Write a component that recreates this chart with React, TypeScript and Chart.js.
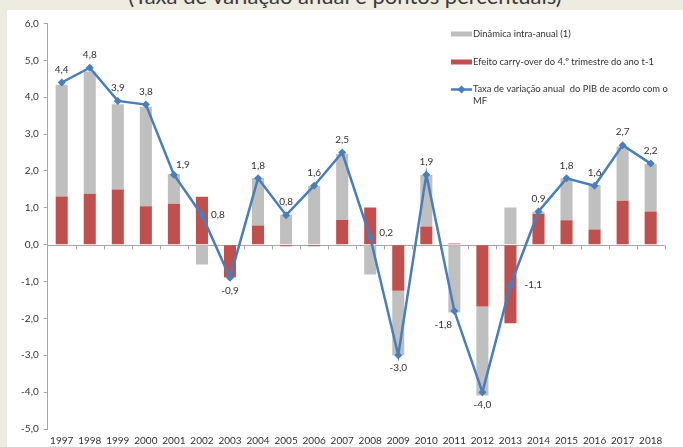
import React, { useEffect, useRef } from 'react';
import { Chart, registerables } from 'chart.js';

Chart.register(...registerables);

const YEARS = ['1997', '1998', '1999', '2000', '2001', '2002', '2003', '2004', '2005', '2006', '2007', '2008', '2009', '2010', '2011', '2012', '2013', '2014', '2015', '2016', '2017', '2018'];
const CARRY_OVER = [1.31, 1.38, 1.5, 1.04, 1.11, 1.3, -0.88, 0.52, -0.04, -0.04, 0.67, 1.01, -1.25, 0.49, 0.03, -1.68, -2.13, 0.83, 0.66, 0.41, 1.19, 0.9];
const INTRA_ANUAL = [3.03, 3.32, 2.31, 2.7, 0.81, -0.54, -0.02, 1.29, 0.81, 1.59, 1.8, -0.81, -1.75, 1.4, -1.84, -2.41, 1.01, 0.06, 1.14, 1.21, 1.47, 1.29];
const PIB = [4.4, 4.8, 3.9, 3.8, 1.9, 0.8, -0.9, 1.8, 0.8, 1.6, 2.5, 0.2, -3.0, 1.9, -1.8, -4.0, -1.1, 0.9, 1.8, 1.6, 2.7, 2.2];
const Y_MIN = -5;
const Y_MAX = 6;

const TITLE = '(Taxa de variação anual e pontos percentuais)';
const LEGEND_INTRA = 'Dinâmica intra-anual (1)';
const LEGEND_CARRY = 'Efeito carry-over do 4.º trimestre do ano t-1';
const LEGEND_PIB = ['Taxa de variação anual  do PIB de acordo com o', 'MF'];

// label placement (style only)
const LABEL_PLACE = ['above', 'above', 'above', 'above', 'upRight', 'right', 'below', 'above', 'above', 'above', 'above', 'rightUp', 'below', 'above', 'leftBelow', 'below', 'rightFar', 'above', 'above', 'above', 'above', 'above'];

const GREY = '#BFBFBF';
const RED = '#C0504D';
const BLUE = '#4A7EBB';
const AXIS = '#A6A6A6';
const TEXT = '#333333';
const FONT = 'Lato, "Open Sans", sans-serif';

const fmt = (v: number) => v.toFixed(1).replace('.', ',');

const overlayPlugin = {
  id: 'overlay',
  beforeDatasetsDraw(chart: any) {
    const { ctx, chartArea, scales } = chart;
    const y0 = scales.y.getPixelForValue(0);
    const n = YEARS.length;
    const pitch = (chartArea.right - chartArea.left) / n;
    ctx.save();
    ctx.strokeStyle = AXIS;
    ctx.lineWidth = 1;
    ctx.beginPath();
    const yy = Math.round(y0) + 0.5;
    ctx.moveTo(chartArea.left, yy);
    ctx.lineTo(chartArea.right, yy);
    for (let i = 1; i <= n; i++) {
      const x = Math.round(chartArea.left + i * pitch) + 0.5;
      ctx.moveTo(x, yy);
      ctx.lineTo(x, yy + 4);
    }
    ctx.stroke();
    ctx.restore();
  },
  afterDatasetsDraw(chart: any) {
    const { ctx } = chart;
    const meta = chart.getDatasetMeta(2);
    ctx.save();
    ctx.font = `10px ${FONT}`;
    ctx.fillStyle = TEXT;
    meta.data.forEach((pt: any, i: number) => {
      const txt = fmt(PIB[i]);
      const p = LABEL_PLACE[i];
      let x = pt.x;
      let y = pt.y;
      ctx.textAlign = 'center';
      ctx.textBaseline = 'middle';
      if (p === 'above') { y -= 13; }
      else if (p === 'below') { y += 13; }
      else if (p === 'upRight') { x += 9; y -= 10; }
      else if (p === 'right') { ctx.textAlign = 'left'; x += 9; }
      else if (p === 'rightUp') { ctx.textAlign = 'left'; x += 9; y -= 5; }
      else if (p === 'rightFar') { ctx.textAlign = 'left'; x += 14; }
      else if (p === 'leftBelow') { x -= 11; y += 14; }
      ctx.fillText(txt, x, y);
    });
    ctx.restore();
  },
  afterDraw(chart: any) {
    const { ctx } = chart;
    ctx.save();
    ctx.font = `9.4px ${FONT}`;
    ctx.fillStyle = TEXT;
    ctx.textAlign = 'left';
    ctx.textBaseline = 'middle';
    const bx = 444;
    const tx = 466;
    // grey
    ctx.fillStyle = GREY;
    ctx.fillRect(bx, 21.5, 21, 5);
    ctx.fillStyle = TEXT;
    ctx.fillText(LEGEND_INTRA, tx, 24);
    // red
    ctx.fillStyle = RED;
    ctx.fillRect(bx, 49.5, 21, 5);
    ctx.fillStyle = TEXT;
    ctx.fillText(LEGEND_CARRY, tx, 52);
    // line
    ctx.strokeStyle = BLUE;
    ctx.lineWidth = 2.5;
    ctx.beginPath();
    ctx.moveTo(bx, 79.5);
    ctx.lineTo(bx + 21, 79.5);
    ctx.stroke();
    ctx.fillStyle = BLUE;
    ctx.beginPath();
    const cx = bx + 10.5;
    ctx.moveTo(cx, 75.5);
    ctx.lineTo(cx + 4, 79.5);
    ctx.lineTo(cx, 83.5);
    ctx.lineTo(cx - 4, 79.5);
    ctx.closePath();
    ctx.fill();
    ctx.fillStyle = TEXT;
    ctx.fillText(LEGEND_PIB[0], tx, 79);
    ctx.fillText(LEGEND_PIB[1], tx, 91);
    ctx.restore();
  },
};

export default function App() {
  const ref = useRef<HTMLCanvasElement | null>(null);
  useEffect(() => {
    if (!ref.current) return;
    const chart = new Chart(ref.current, {
      type: 'bar',
      data: {
        labels: YEARS,
        datasets: [
          {
            type: 'bar',
            label: LEGEND_CARRY,
            data: CARRY_OVER,
            backgroundColor: RED,
            stack: 'bars',
            order: 1,
            categoryPercentage: 1,
            barPercentage: 0.43,
          },
          {
            type: 'bar',
            label: LEGEND_INTRA,
            data: INTRA_ANUAL,
            backgroundColor: GREY,
            stack: 'bars',
            order: 1,
            categoryPercentage: 1,
            barPercentage: 0.43,
          },
          {
            type: 'line',
            label: LEGEND_PIB.join(' '),
            data: PIB,
            borderColor: BLUE,
            backgroundColor: BLUE,
            borderWidth: 2.5,
            pointStyle: 'rectRot',
            pointRadius: 4,
            pointBorderWidth: 0,
            pointBackgroundColor: BLUE,
            stack: 'line',
            order: 0,
            tension: 0,
          },
        ] as any,
      },
      options: {
        animation: false,
        responsive: true,
        maintainAspectRatio: false,
        layout: { padding: { top: 13.5, right: 18.3, left: 0, bottom: 0 } },
        plugins: {
          legend: { display: false },
          tooltip: { enabled: false },
          title: { display: false },
        },
        scales: {
          x: {
            stacked: true,
            offset: true,
            grid: { display: false, drawTicks: false },
            border: { display: false },
            ticks: {
              font: { family: FONT, size: 10 },
              color: TEXT,
              padding: 6,
              maxRotation: 0,
              autoSkip: false,
            },
            afterFit: (s: any) => { s.height = 18; },
          },
          y: {
            stacked: true,
            min: Y_MIN,
            max: Y_MAX,
            grid: { drawOnChartArea: false, drawTicks: true, tickLength: 4, color: AXIS },
            border: { display: true, color: AXIS },
            ticks: {
              stepSize: 1,
              font: { family: FONT, size: 10 },
              color: TEXT,
              padding: 5,
              callback: (v: any) => fmt(Number(v)),
            },
            afterFit: (s: any) => { s.width = 40.7; },
          },
        },
      } as any,
      plugins: [overlayPlugin],
    });
    return () => chart.destroy();
  }, []);

  return (
    <div style={{ position: 'fixed', left: 0, top: 0, width: 683, height: 447, overflow: 'hidden', background: '#EEEBE0' }}>
      <div
        style={{
          position: 'absolute',
          left: 0,
          top: -15,
          width: 690,
          textAlign: 'center',
          font: `22px ${FONT}`,
          lineHeight: '22px',
          color: '#3A3A3A',
          whiteSpace: 'nowrap',
        }}
      >
        {TITLE}
      </div>
      <div style={{ position: 'absolute', left: 7, top: 10, width: 676, height: 437, background: '#FFFFFF' }}>
        <canvas ref={ref} />
      </div>
    </div>
  );
}
